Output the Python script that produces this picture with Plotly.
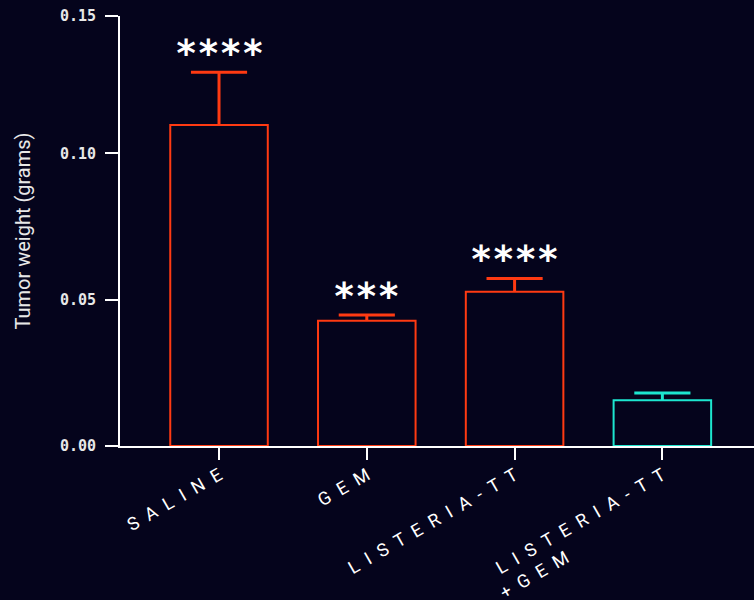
import plotly.graph_objects as go

SP = "\u2002"   # wide gap between letters (letter-spaced labels)
NB = "\u00a0"

categories = ["SALINE", "GEM", "LISTERIA-TT", "LISTERIA-TT\n+GEM"]
means = [0.1097, 0.0428, 0.0527, 0.0156]
errors = [0.0181, 0.0020, 0.0046, 0.0025]
significance = ["****", "***", "****", ""]
bar_colors = ["#ff3a12", "#ff3a12", "#ff3a12", "#1de6cf"]
y_tick_vals = [0.0, 0.05, 0.10, 0.147]
y_tick_text = ["0.00", "0.05", "0.10", "0.15"]

BG = "#05041c"
CAP_HALF = 0.19  # cap half-width in category units


def spaced(label):
    lines = label.split("\n")
    out = [SP.join(list(l)) for l in lines]
    if len(out) > 1:
        # left-align the second line under the first by padding its end
        pad = (len(lines[0]) - len(lines[1])) * 4
        out[1] = out[1] + NB * pad
    return "<br>".join(out)


xs = list(range(len(categories)))
tick_text = [spaced(c) for c in categories]

fig = go.Figure()
fig.add_trace(go.Bar(
    x=xs,
    y=means,
    width=0.66,
    marker=dict(color="rgba(0,0,0,0)", line=dict(color=bar_colors, width=2)),
    showlegend=False,
    hoverinfo="skip",
))

# error whiskers (upper only) drawn from the data arrays
for x, m, e, c in zip(xs, means, errors, bar_colors):
    fig.add_trace(go.Scatter(
        x=[x, x, None, x - CAP_HALF, x + CAP_HALF],
        y=[m, m + e, None, m + e, m + e],
        mode="lines",
        line=dict(color=c, width=3),
        showlegend=False,
        hoverinfo="skip",
    ))

for x, m, e, s in zip(xs, means, errors, significance):
    if s:
        fig.add_annotation(x=x, y=m + e, text=s, showarrow=False,
                           yanchor="bottom", yshift=-5,
                           font=dict(family="DejaVu Sans Mono", size=37,
                                     color="white", weight="bold"))

fig.update_layout(
    width=754, height=600,
    margin=dict(l=120, r=0, t=16, b=154, autoexpand=False),
    paper_bgcolor=BG, plot_bgcolor=BG,
    xaxis=dict(
        range=[-0.67, 3.62],
        automargin=False,
        tickvals=xs, ticktext=tick_text,
        showline=True, linecolor="white", linewidth=2,
        ticks="outside", ticklen=12, tickwidth=2, tickcolor="white",
        tickangle=-30,
        ticklabelstandoff=-2,
        tickfont=dict(family="Roboto", size=18, color="white"),
        showgrid=False, zeroline=False,
    ),
    yaxis=dict(
        range=[0, 0.147],
        automargin=False,
        tickvals=y_tick_vals, ticktext=y_tick_text,
        showline=True, linecolor="white", linewidth=2,
        ticks="outside", ticklen=13, tickwidth=2, tickcolor="white",
        tickfont=dict(family="DejaVu Sans Mono", size=15, color="#e8e8e8",
                      weight="bold"),
        ticklabelstandoff=6,
        showgrid=False, zeroline=False,
        title=dict(text="Tumor weight (grams)", standoff=24,
                   font=dict(family="Roboto", size=20, color="#e8e8e8")),
    ),
)

fig.write_html("out.html")
